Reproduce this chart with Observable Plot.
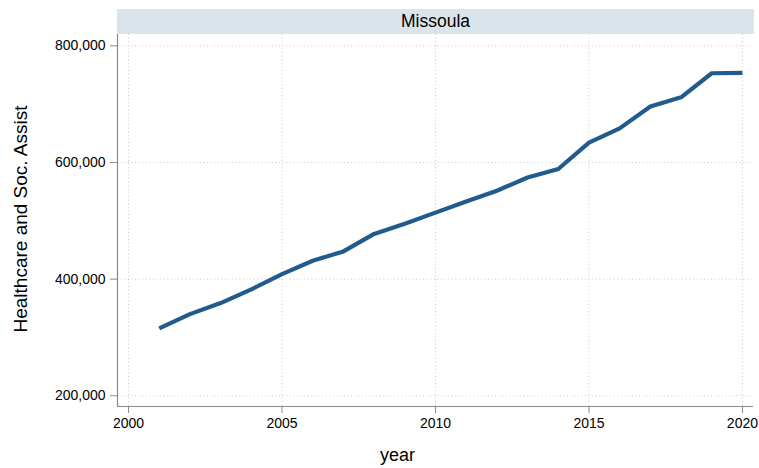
<!DOCTYPE html>
<html>
<head>
<meta charset="utf-8">
<script src="https://cdn.jsdelivr.net/npm/d3@7"></script>
<script src="https://cdn.jsdelivr.net/npm/@observablehq/plot@0.6"></script>
<style>
  html, body { margin: 0; padding: 0; background: #fff; }
  #chart svg { display: block; }
</style>
</head>
<body>
<div id="chart"></div>
<script>
const panelTitle = "Missoula";
const yLabel = "Healthcare and Soc. Assist";
const xLabel = "year";
const years = [2001, 2002, 2003, 2004, 2005, 2006, 2007, 2008, 2009, 2010,
               2011, 2012, 2013, 2014, 2015, 2016, 2017, 2018, 2019, 2020];
const values = [315500, 340000, 359000, 382500, 408700, 431500, 447500, 477500, 495000, 514000,
                533000, 551500, 574300, 588800, 634000, 658500, 696000, 711700, 753000, 753700];
const xTicks = [2000, 2005, 2010, 2015, 2020];
const yTicks = [200000, 400000, 600000, 800000];

const data = years.map((y, i) => ({year: y, value: values[i]}));

const font = "'Liberation Sans', Helvetica, Arial, sans-serif";
const W = 759, H = 468;
const mL = 117, mR = 6, mT = 34, mB = 62;
const xDomain = [1999.64, 2020.36];
const yDomain = [181650, 819400];
const axisColor = "#8a8a8a";
const gridColor = "#c8c8c8";

const plot = Plot.plot({
  width: W,
  height: H,
  marginLeft: mL,
  marginRight: mR,
  marginTop: mT,
  marginBottom: mB,
  style: {fontFamily: font, fontSize: "14px", color: "#000", background: "#fff"},
  x: {domain: xDomain},
  y: {domain: yDomain},
  marks: [
    Plot.gridX(xTicks, {stroke: gridColor, strokeOpacity: 1, strokeDasharray: "1,2.6"}),
    Plot.gridY(yTicks, {stroke: gridColor, strokeOpacity: 1, strokeDasharray: "1,2.6"}),
    Plot.ruleX([xDomain[0]], {stroke: axisColor, strokeWidth: 1.2}),
    Plot.ruleY([yDomain[0]], {stroke: axisColor, strokeWidth: 1.2}),
    Plot.axisX(xTicks, {tickSize: 7, tickPadding: 5, stroke: axisColor, fill: "#000", fontSize: 14, label: null, tickFormat: d3.format("d")}),
    Plot.axisY(yTicks, {tickSize: 7, tickPadding: 5, stroke: axisColor, fill: "#000", fontSize: 14, label: null, tickFormat: d3.format(",")}),
    Plot.line(data, {x: "year", y: "value", stroke: "#215a8c", strokeWidth: 4.2, strokeLinejoin: "round", strokeLinecap: "butt"}),
    Plot.text([yLabel], {frameAnchor: "left", rotate: -90, dx: -91, dy: -1.5, lineAnchor: "bottom", textAnchor: "middle", fontSize: 19, fill: "#000"}),
    Plot.text([xLabel], {frameAnchor: "bottom", dx: -38, dy: 54.5, lineAnchor: "bottom", textAnchor: "middle", fontSize: 18, fill: "#000"}),
    Plot.text([panelTitle], {frameAnchor: "top", dy: -7.3, lineAnchor: "bottom", textAnchor: "middle", fontSize: 17.5, fill: "#000"})
  ]
});

// panel strip background
const svg = d3.select(plot);
svg.insert("rect", ":first-child")
  .attr("x", mL).attr("y", 9)
  .attr("width", W - mR - mL + 1).attr("height", mT - 9)
  .attr("fill", "#d9e5eb");
svg.insert("rect", ":first-child")
  .attr("x", 0).attr("y", 0).attr("width", W).attr("height", H).attr("fill", "#fff");

document.getElementById("chart").appendChild(plot);
</script>
</body>
</html>
